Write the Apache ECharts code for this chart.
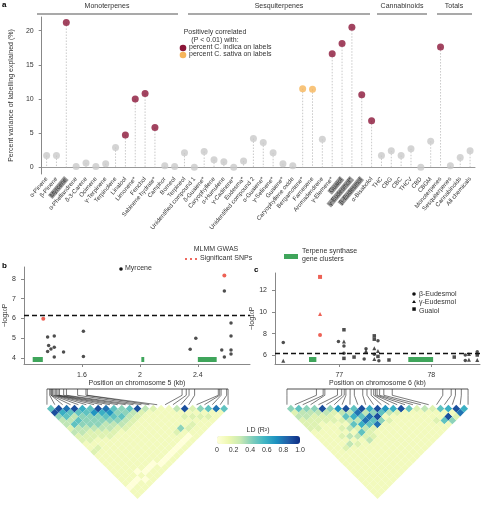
<!doctype html>
<html>
<head>
<meta charset="UTF-8">
<script src="https://cdn.jsdelivr.net/npm/echarts@6/dist/echarts.min.js"></script>
<style>html,body{margin:0;background:#fff}#main{width:491px;height:510px}</style>
</head>
<body>
<div id="main"></div>
<script>
// panel a
var compounds = ['α-Pinene','β-Pinene','Myrcene','α-Phellandrene','δ-3-Carene','Ocimene','γ-Terpinene','Terpinolene','Linalool','Limonene*','Fenchol','Sabinene hydrate*','Camphor','Borneol','Terpineol',
  'Unidentified compound 1','δ-Guaiene*','Caryophyllene','α-Humulene','γ-Cadinene*','Eudesma*','Unidentified compound 2','α-Guaiene*','γ-Selinene*','Guaiene*','Caryophyllene oxide','Bergamotene*','Farnesene','Aromadendrene','γ-Elemene*','Guaiol','γ-Eudesmol*','β-Eudesmol','α-Bisabolol',
  'THC','CBG','CBC','THCV','CBD','CBGM','Monoterpenes','Sesquiterpenes','Cannabinoids','All chemicals'];
var variance = [1.7,1.7,21.2,0.1,0.6,0.1,0.5,2.9,4.7,10.0,10.8,5.8,0.2,0.1,2.1,
  0.0,2.3,1.1,0.8,0.0,0.9,4.2,3.6,2.1,0.5,0.2,11.5,11.4,4.1,16.6,18.1,20.5,10.6,6.8,
  1.7,2.4,1.7,2.7,0.0,3.8,17.6,0.2,1.4,2.4];
// 0 none, 1 indica, 2 sativa
var correlated = [0,0,1,0,0,0,0,0,1,1,1,1,0,0,0, 0,0,0,0,0,0,0,0,0,0,0,2,2,0,1,1,1,1,1, 0,0,0,0,0,0,1,0,0,0];
var highlighted = ['Myrcene','Guaiol','γ-Eudesmol*','β-Eudesmol'];
var ticksA = [0,5,10,15,20];

// panel b: [position kb, -log10 P]
var myrcene = [[1.363,5.07],[1.370,4.63],[1.363,4.33],[1.386,4.46],[1.409,5.12],[1.409,4.54],[1.409,4.05],[1.473,4.30],[1.61,5.36],[1.61,4.08],
  [2.347,4.45],[2.386,5.0],[2.583,7.39],[2.565,4.41],[2.583,4.05],[2.629,5.77],[2.629,5.12],[2.629,4.41],[2.629,4.20]];
var myrceneSig = [[1.333,5.98],[2.583,8.17]];
var clustersB = [[1.26,1.33],[2.01,2.03],[2.40,2.53]];
var ticksBx = [1.6,2.0,2.4];
var ticksBy = [4,5,6,7,8];

// panel c
var betaEud = [[76.39,7.18],[76.99,7.28],[77.05,6.87],[77.05,6.19],[77.27,5.66],[77.29,6.6],[77.38,6.1],[77.42,7.34],[77.43,5.5],[78.37,5.53],[78.37,6.03],[78.5,6.34]];
var gammaEud = [[76.39,5.5],[77.05,7.28],[77.29,6.4],[77.38,6.65],[77.42,6.4],[77.38,5.66],[78.41,6.12],[78.41,5.6],[78.5,5.57]];
var guaiol = [[77.05,8.36],[77.05,5.72],[77.16,5.84],[77.38,7.8],[77.38,7.49],[77.42,5.9],[77.54,5.57],[78.25,5.84],[78.5,6.03]];
var sigC = [[76.79,13.24,'rect'],[76.79,9.82,'triangle'],[76.79,7.87,'circle']];
var clustersC = [[76.67,76.75],[77.75,78.02]];
var ticksCx = [77,78];
var ticksCy = [6,8,10,12];
var threshold = 6.17;

// LD (R^2 x10), upper triangle rows
var ldB = ['59433232211211111111011','9653533221211111111011','853543221111111111011','95444322111111110101','6544432211111111011',
  '574433211111111011','96543211111111011','8754321111111101','545321111111101','44321111111101','5321111111101','921111111101',
  '31111111101','2111112101','111114101','11111211','3121211','912111','21211','4121','511','81','5'];
var ldC = ['42322211111111111111111','5332221111111111111111','432211111121111111111','43221112131111111111','9322121312111111111',
  '421213131111111111','73535252311111111','9363632211111111','585852111111111','93858111111111','6494111111111','951211111111',
  '73111111111','6211111111','911111111','51111111','2111111','311211','21151','5194','612','98','6'];
var ldPosB = [1.33,1.35,1.36,1.36,1.37,1.38,1.39,1.40,1.41,1.42,1.45,1.47,1.55,1.61,1.62,2.30,2.33,2.35,2.39,2.56,2.57,2.58,2.62,2.63];
var ldPosC = [76.35,76.7,76.78,76.8,76.95,77.0,77.03,77.05,77.1,77.15,77.25,77.3,77.35,77.38,77.4,77.42,77.45,77.5,77.6,78.2,78.3,78.35,78.42,78.5];
var ldTicks = ['0','0.2','0.4','0.6','0.8','1.0'];

var N = 24;
function cells(rows) {
    var out = [];
    for (var i = 0; i < rows.length; i++) {
        for (var k = 0; k < rows[i].length; k++) {
            var j = i + 1 + k;
            out.push([(i + j) / 2, (j - i) / 2, +rows[i][k] / 10]);
        }
    }
    return out;
}
function fans(pos) {
    var lo = pos[0], hi = pos[pos.length - 1];
    return pos.map(function (p, k) { return [(p - lo) / (hi - lo) * (N - 1), k]; });
}

var RED = '#8b1538', ORANGE = '#f6b55a', GREY = '#c9c9c9';
var colors = {0: GREY, 1: RED, 2: ORANGE};
var txt = {color: '#333', fontSize: 7, fontFamily: 'Liberation Sans'};
var subName = {color: '#333', fontSize: 7, rich: {s: {fontSize: 5, verticalAlign: 'bottom'}}};

function diamond(params, api) {
    var cx = api.value(0), cy = api.value(1);
    var pts = [api.coord([cx - 0.5, cy]), api.coord([cx, cy - 0.5]), api.coord([cx + 0.5, cy]), api.coord([cx, cy + 0.5])];
    return {type: 'polygon', shape: {points: pts}, style: {fill: api.visual('color'), stroke: null}};
}
function fanLine(params, api) {
    var a = api.coord([api.value(0), -2]), b = api.coord([api.value(0), -1.2]), c = api.coord([api.value(1), 0]);
    var ch = [{type: 'polyline', shape: {points: [a, b, c]}, style: {stroke: '#222', lineWidth: 0.6, fill: null}}];
    if (params.dataIndex === 0) {
        var l = api.coord([0, -2]), r = api.coord([N - 1, -2]);
        ch.push({type: 'line', shape: {x1: l[0], y1: l[1], x2: r[0], y2: r[1]}, style: {stroke: '#222', lineWidth: 0.8}});
    }
    return {type: 'group', children: ch};
}
function cluster(ymin) {
    return function (params, api) {
        var s = api.coord([api.value(0), ymin]), e = api.coord([api.value(1), ymin]);
        return {type: 'rect', shape: {x: s[0], y: s[1] - 7, width: e[0] - s[0], height: 5}, style: {fill: '#3fa55b'}};
    };
}
function stem(params, api) {
    var t = api.coord([api.value(0), api.value(1)]), b = api.coord([api.value(0), 0]);
    return {type: 'line', shape: {x1: t[0], y1: t[1], x2: b[0], y2: b[1]}, style: {stroke: '#bbb', lineWidth: 0.8, lineDash: [1.5, 1.5]}};
}
function valAxis(grid, min, max, ticks, extra) {
    var ax = {gridIndex: grid, type: 'value', min: min, max: max, splitLine: {show: false},
        axisLine: {show: true, onZero: false, lineStyle: {color: '#888'}},
        axisTick: {show: true, length: 3, customValues: ticks},
        axisLabel: {fontSize: 7, color: '#333', customValues: ticks}};
    for (var k in extra) ax[k] = extra[k];
    return ax;
}

var myChart = echarts.init(document.getElementById('main'));
var option = {
    animation: false,
    textStyle: {fontFamily: 'Liberation Sans'},
    grid: [
        {left: 31, top: 17, width: 444, height: 157},
        {left: 24, top: 267, width: 226, height: 97},
        {left: 275, top: 273, width: 205, height: 91},
        {left: 43, top: 389, width: 189, height: 110},
        {left: 283, top: 389, width: 189, height: 110}
    ],
    xAxis: [
        {gridIndex: 0, type: 'category', data: compounds, axisTick: {show: false},
            axisLine: {lineStyle: {color: '#999'}},
            axisLabel: {interval: 0, rotate: 50, fontSize: 6, color: '#333', margin: 4,
                formatter: function (v) { return highlighted.indexOf(v) >= 0 ? '{h|' + v + '}' : v; },
                rich: {h: {backgroundColor: '#9a9a9a', fontSize: 6, padding: [0, 1]}}}},
        valAxis(1, 1.2, 2.76, ticksBx, {name: 'Position on chromosome 5 (kb)', nameLocation: 'middle', nameGap: 15, nameTextStyle: txt}),
        valAxis(2, 76.3, 78.53, ticksCx, {name: 'Position on chromosome 6 (kb)', nameLocation: 'middle', nameGap: 15, nameTextStyle: txt}),
        {gridIndex: 3, type: 'value', min: -0.5, max: N - 0.5, show: false},
        {gridIndex: 4, type: 'value', min: -0.5, max: N - 0.5, show: false}
    ],
    yAxis: [
        valAxis(0, -1, 22, ticksA, {name: 'Percent variance of labelling explained (%)', nameLocation: 'middle', nameGap: 16, nameTextStyle: txt}),
        valAxis(1, 3.7, 8.6, ticksBy, {name: '−log{s|10}P', nameLocation: 'middle', nameGap: 12, nameTextStyle: subName}),
        valAxis(2, 5.2, 13.6, ticksCy, {name: '−log{s|10}P', nameLocation: 'middle', nameGap: 14, nameTextStyle: subName}),
        {gridIndex: 3, type: 'value', min: -2, max: N / 2, inverse: true, show: false},
        {gridIndex: 4, type: 'value', min: -2, max: N / 2, inverse: true, show: false}
    ],
    visualMap: {
        type: 'continuous', min: 0, max: 1, seriesIndex: [9, 10], orient: 'horizontal',
        left: 202, top: 421, itemWidth: 8, itemHeight: 83, text: ['', ''], calculable: false, showLabel: false,
        inRange: {color: ['#ffffd9', '#edf8b1', '#c7e9b4', '#7fcdbb', '#41b6c4', '#1d91c0', '#225ea8', '#0c2c84']}
    },
    series: [
        {type: 'custom', xAxisIndex: 0, yAxisIndex: 0, renderItem: stem, silent: true,
            data: variance.map(function (v, i) { return [i, v]; })},
        {type: 'scatter', xAxisIndex: 0, yAxisIndex: 0, symbolSize: 7,
            data: variance.map(function (v, i) { return {value: [i, v], itemStyle: {color: colors[correlated[i]]}}; })},
        {type: 'scatter', xAxisIndex: 1, yAxisIndex: 1, symbolSize: 3.5, itemStyle: {color: '#222'}, data: myrcene,
            markLine: {silent: true, symbol: 'none', label: {show: false}, lineStyle: {color: '#111', type: [5, 3], width: 1.3},
                data: [{yAxis: threshold}]}},
        {type: 'scatter', xAxisIndex: 1, yAxisIndex: 1, symbolSize: 4, itemStyle: {color: '#e8392b'}, data: myrceneSig},
        {type: 'custom', xAxisIndex: 1, yAxisIndex: 1, renderItem: cluster(3.7), data: clustersB},
        {type: 'scatter', xAxisIndex: 2, yAxisIndex: 2, symbol: 'circle', symbolSize: 3.5, itemStyle: {color: '#222'}, data: betaEud,
            markLine: {silent: true, symbol: 'none', label: {show: false}, lineStyle: {color: '#111', type: [5, 3], width: 1.3},
                data: [{yAxis: threshold}]}},
        {type: 'scatter', xAxisIndex: 2, yAxisIndex: 2, symbol: 'triangle', symbolSize: 4, itemStyle: {color: '#222'}, data: gammaEud},
        {type: 'scatter', xAxisIndex: 2, yAxisIndex: 2, symbol: 'rect', symbolSize: 3.5, itemStyle: {color: '#222'}, data: guaiol},
        {type: 'scatter', xAxisIndex: 2, yAxisIndex: 2, symbolSize: 4, itemStyle: {color: '#e8392b'},
            data: sigC.map(function (d) { return {value: [d[0], d[1]], symbol: d[2]}; })},
        {type: 'custom', xAxisIndex: 3, yAxisIndex: 3, renderItem: diamond, data: cells(ldB), encode: {x: 0, y: 1}},
        {type: 'custom', xAxisIndex: 4, yAxisIndex: 4, renderItem: diamond, data: cells(ldC), encode: {x: 0, y: 1}},
        {type: 'custom', xAxisIndex: 3, yAxisIndex: 3, renderItem: fanLine, data: fans(ldPosB)},
        {type: 'custom', xAxisIndex: 4, yAxisIndex: 4, renderItem: fanLine, data: fans(ldPosC)},
        {type: 'custom', xAxisIndex: 2, yAxisIndex: 2, renderItem: cluster(5.2), data: clustersC}
    ],
    graphic: [
        {type: 'text', left: 2, top: 1, style: {text: 'a', font: 'bold 8px Liberation Sans'}},
        {type: 'text', left: 2, top: 262, style: {text: 'b', font: 'bold 8px Liberation Sans'}},
        {type: 'text', left: 254, top: 266, style: {text: 'c', font: 'bold 8px Liberation Sans'}},
        {type: 'line', shape: {x1: 37, y1: 14, x2: 178, y2: 14}, style: {stroke: '#555', lineWidth: 1.2}},
        {type: 'line', shape: {x1: 188, y1: 14, x2: 370, y2: 14}, style: {stroke: '#555', lineWidth: 1.2}},
        {type: 'line', shape: {x1: 377, y1: 14, x2: 427, y2: 14}, style: {stroke: '#555', lineWidth: 1.2}},
        {type: 'line', shape: {x1: 437, y1: 14, x2: 472, y2: 14}, style: {stroke: '#555', lineWidth: 1.2}},
        {type: 'text', x: 107, y: 3, style: {text: 'Monoterpenes', font: '7px Liberation Sans', fill: '#333', textAlign: 'center'}},
        {type: 'text', x: 279, y: 3, style: {text: 'Sesquiterpenes', font: '7px Liberation Sans', fill: '#333', textAlign: 'center'}},
        {type: 'text', x: 402, y: 3, style: {text: 'Cannabinoids', font: '7px Liberation Sans', fill: '#333', textAlign: 'center'}},
        {type: 'text', x: 454, y: 3, style: {text: 'Totals', font: '7px Liberation Sans', fill: '#333', textAlign: 'center'}},
        {type: 'text', x: 215, y: 28, style: {text: 'Positively correlated\n(P < 0.01) with:', font: '7px Liberation Sans', fill: '#333', textAlign: 'center', lineHeight: 8}},
        {type: 'circle', shape: {cx: 183, cy: 48, r: 3.3}, style: {fill: RED}},
        {type: 'circle', shape: {cx: 183, cy: 55, r: 3.3}, style: {fill: ORANGE}},
        {type: 'text', x: 189, y: 44, style: {text: 'percent C. indica on labels', font: '7px Liberation Sans', fill: '#333'}},
        {type: 'text', x: 189, y: 51, style: {text: 'percent C. sativa on labels', font: '7px Liberation Sans', fill: '#333'}},
        {type: 'text', x: 216, y: 246, style: {text: 'MLMM GWAS', font: '7px Liberation Sans', fill: '#333', textAlign: 'center'}},
        {type: 'circle', shape: {cx: 186, cy: 259, r: 1}, style: {fill: '#e8392b'}},
        {type: 'circle', shape: {cx: 191, cy: 259, r: 1}, style: {fill: '#e8392b'}},
        {type: 'circle', shape: {cx: 196, cy: 259, r: 1}, style: {fill: '#e8392b'}},
        {type: 'text', x: 200, y: 255, style: {text: 'Significant SNPs', font: '7px Liberation Sans', fill: '#333'}},
        {type: 'rect', shape: {x: 284, y: 254, width: 14, height: 5}, style: {fill: '#3fa55b'}},
        {type: 'text', x: 302, y: 247, style: {text: 'Terpene synthase\ngene clusters', font: '7px Liberation Sans', fill: '#333', lineHeight: 8}},
        {type: 'circle', shape: {cx: 121, cy: 269, r: 1.8}, style: {fill: '#111'}},
        {type: 'text', x: 125, y: 265, style: {text: 'Myrcene', font: '7px Liberation Sans', fill: '#333'}},
        {type: 'circle', shape: {cx: 414, cy: 294, r: 1.8}, style: {fill: '#111'}},
        {type: 'polygon', shape: {points: [[414, 300], [412, 303], [416, 303]]}, style: {fill: '#111'}},
        {type: 'rect', shape: {x: 412.3, y: 307.3, width: 3.5, height: 3.5}, style: {fill: '#111'}},
        {type: 'text', x: 419, y: 290, style: {text: 'β-Eudesmol\nγ-Eudesmol\nGuaiol', font: '7px Liberation Sans', fill: '#333', lineHeight: 8.3}},
        {type: 'text', x: 258, y: 427, style: {text: 'LD (R²)', font: '7px Liberation Sans', fill: '#333', textAlign: 'center'}}
    ].concat(ldTicks.map(function (t, i) {
        return {type: 'text', x: 217 + i * 83 / 5, y: 447, style: {text: t, font: '7px Liberation Sans', fill: '#333', textAlign: 'center'}};
    }))
};
myChart.setOption(option);
</script>
</body>
</html>
